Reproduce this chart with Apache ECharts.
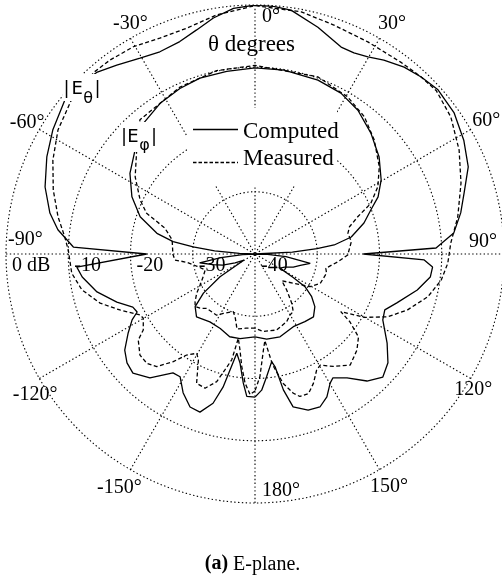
<!DOCTYPE html>
<html><head><meta charset="utf-8">
<script src="https://cdn.jsdelivr.net/npm/echarts@6/dist/echarts.min.js"></script>
<style>html,body{margin:0;padding:0;background:#fff}#c{width:502px;height:575px}</style>
</head><body><div id="c"></div>
<script>
// ---- data: [angle in degrees, level in dB] ----
const thetaComputed = [[-180,-17.0],[-176.7,-17.1],[-174.8,-19.2],[-172.2,-22.3],[-169.6,-23.8],[-166.5,-18.0],[-164.3,-15.1],[-160.8,-13.1],[-157,-13.3],[-152.6,-14.9],[-148.6,-16.9],[-145.4,-16.8],[-139.7,-13.9],[-134.3,-12.6],[-130.4,-13.0],[-126.4,-14.0],[-121.9,-16.0],[-118.2,-17.6],[-116.2,-18.9],[-113.5,-18.6],[-109.2,-16.5],[-103.5,-13.9],[-97.6,-12.0],[-94.2,-11.3],[-90,-22.6],[-87.8,-10.8],[-83,-8.1],[-78.7,-6.4],[-72.3,-4.6],[-65,-3.1],[-58.5,-1.9],[-51,-0.7],[-46,-0.9],[-41.1,-1.3],[-36.2,-2.4],[-30.4,-3.5],[-25.2,-4.1],[-19.5,-3.8],[-14.6,-2.8],[-10,-1.5],[-5,-0.4],[0,0],[4,-0.1],[8.4,-0.4],[15.5,-2.2],[22.6,-4.0],[26.2,-4.0],[29.8,-3.5],[33.6,-2.6],[38.6,-1.6],[43.2,-1.0],[48.1,-0.5],[54.7,-0.8],[61.4,-1.8],[67.8,-3.0],[73.7,-5.0],[78.7,-6.3],[84,-7.9],[88.1,-10.9],[90,-22.6],[92,-12.8],[94.2,-11.4],[97.5,-11.6],[102.5,-13.3],[109,-15.9],[113.3,-17.3],[117.3,-16.9],[124,-14.4],[129.3,-12.4],[133.9,-11.5],[138.6,-12.8],[143.4,-15.2],[147.8,-16.5],[149.8,-16.0],[153.3,-14.3],[157,-13.3],[161.2,-13.5],[166,-14.7],[168.2,-17.7],[169.9,-21.6],[171.2,-22.5],[172.2,-22.3],[174.6,-20.2],[177.2,-18.1],[180,-17.0]];

const thetaMeasured = [[-180,-18.0],[-178,-17.4],[-175.6,-19.2],[-173.3,-21.8],[-171.1,-24.4],[-168.8,-26.2],[-167.6,-22.6],[-165.5,-20.8],[-163.3,-18.6],[-159.6,-17.0],[-155.7,-17.2],[-151.9,-20.7],[-149.6,-21.5],[-145.9,-20.4],[-142.8,-18.3],[-138.9,-16.0],[-135.3,-15.3],[-131.3,-15.4],[-126.4,-16.7],[-124.2,-18.3],[-119.9,-19.3],[-117.9,-19.1],[-112.5,-16.5],[-107.6,-13.9],[-101.7,-11.6],[-96,-10.4],[-88.8,-10.0],[-84.8,-9.3],[-79.3,-7.8],[-72.4,-6.0],[-65.1,-4.2],[-57.8,-2.6],[-50,-1.5],[-45,-1.2],[-41.3,-1.0],[-36.8,-1.1],[-30.4,-1.4],[-23.8,-2.1],[-16.8,-2.1],[-9.1,-1.1],[0,-0.1],[10.8,-0.4],[19,-1.1],[28,-1.4],[37.2,-1.3],[43,-1.0],[48,-0.8],[55,-1.6],[63,-3.2],[71,-5.0],[79.7,-6.9],[86.8,-8.5],[92.8,-9.0],[98,-9.8],[103.9,-11.4],[110.1,-13.9],[115.3,-16.4],[120.1,-19.7],[123.9,-23.4],[125.5,-21.3],[128.7,-18.7],[133.3,-17.5],[139.4,-16.5],[145.2,-18.0],[149.6,-19.3],[152,-18.9],[155.7,-17.2],[159,-16.0],[162.5,-16.0],[164.6,-16.8],[167.7,-18.7],[171,-22.0],[173.5,-26.0],[175,-24.5],[177.7,-20.3],[180,-18.0]];

const phiComputed = [[-180,-26.7],[-170,-26.2],[-163,-26.1],[-155,-26.8],[-146.4,-26.9],[-137.1,-26.2],[-131.3,-27.2],[-127.2,-29.6],[-123,-33.3],[-119,-38.0],[-114,-36.5],[-109,-34.5],[-104,-33.0],[-99,-31.0],[-96,-34.5],[-93,-38.0],[-90,-40],[-87.5,-37.5],[-85.5,-33.5],[-83.4,-30.0],[-81.4,-26.7],[-78.1,-23.9],[-72,-20.6],[-65.1,-18.2],[-57.2,-16.1],[-49.1,-14.5],[-40.5,-12.4],[-32.2,-11.4],[-24.4,-10.8],[-17.4,-10.4],[-8.8,-10.3],[0,-10.1],[9,-10.1],[19.9,-10.3],[28.1,-10.7],[35.6,-11.6],[43.8,-13.1],[52,-14.7],[59.6,-16.5],[65.1,-18.2],[69.2,-20.1],[74.1,-21.8],[80,-24.3],[83.5,-27.2],[85,-30.0],[87,-34.0],[90,-40],[92,-38.0],[95,-35.0],[99.6,-31.0],[104,-32.5],[109,-33.5],[114,-34.8],[119.5,-35.4],[121.5,-32.8],[123.2,-30.4],[127,-28.6],[131.3,-27.2],[137.1,-26.2],[143.6,-26.5],[152.2,-26.8],[163.2,-26.1],[172.2,-26.2],[180,-26.7]];

const phiMeasured = [[-180,-28.1],[-173,-28.0],[-166.5,-27.6],[-163,-29.2],[-159.4,-30.1],[-152,-29.2],[-147.9,-28.4],[-138.4,-28.3],[-134.6,-27.6],[-131.3,-27.2],[-128.5,-27.7],[-124,-28.7],[-119.4,-29.9],[-113,-31.0],[-107.7,-31.6],[-102,-30.5],[-97,-29.0],[-94.3,-27.1],[-90,-26.8],[-85,-26.7],[-80.4,-26.5],[-76,-25.5],[-73.9,-24.9],[-69.4,-21.4],[-64.8,-19.6],[-57.2,-17.1],[-48.7,-14.7],[-40.6,-11.6],[-24.2,-10.6],[-11.8,-9.9],[0,-9.7],[19.5,-9.8],[30.5,-10.7],[38.5,-11.8],[46.3,-13.5],[54.9,-15.6],[61.3,-17.5],[66.4,-19.7],[70,-22.4],[73.9,-24.2],[77.4,-24.7],[82.7,-24.4],[90.6,-25.1],[95.3,-26.6],[101.4,-28.4],[105,-28.1],[114.3,-28.5],[120.7,-29.7],[127.4,-32.3],[135,-33.9],[138.6,-32.3],[143.3,-30.1],[146.4,-28.9],[150.2,-28.7],[154.9,-28.0],[164.1,-27.3],[174.3,-27.5],[180,-28.1]];

const angleTicks = [0, 30, 60, 90, 120, 150, 180, -150, -120, -90, -60, -30];
const angleTickLabels = ['0°', '30°', '60°', '90°', '120°', '150°', '180°', '-150°', '-120°', '-90°', '-60°', '-30°'];
const radialTicks = [0, -10, -20, -30, -40];
const radialTickLabels = ['0 dB', '-10', '-20', '-30', '-40'];
const legendLabels = ['Computed', 'Measured'];
const angleTitle = 'θ degrees';
const caption = ['(a)', ' E-plane.'];

// ---- styling / layout (not data) ----
const angleLabelNudge = [[7,11.5],[-1.5,-15],[1.5,-8.5],[-35,-12.5],[-16.5,11.5],[-9.5,17.5],[7,-12.5],[-33.5,18.5],[-26.5,16.5],[2,-14],[-29.5,-7],[-17.5,-14.5]];
const SERIF = 'Liberation Serif';
const SANS = 'DejaVu Sans';
const dotted = { color: '#000', width: 1.1, type: [1.4, 2.4] };
const dashPattern = [4, 2.5];

function toPolar(arr) { return arr.map(p => [p[1], p[0]]); }

const chart = echarts.init(document.getElementById('c'), null, { renderer: 'canvas' });

function lineSeries(name, arr, dashed) {
  return {
    name: name, type: 'line', coordinateSystem: 'polar', data: toPolar(arr),
    showSymbol: false, symbol: 'none', silent: true, animation: false, clip: false,
    lineStyle: { color: '#000', width: 1.3, type: dashed ? dashPattern : 'solid' }, z: 3
  };
}

function txt(text, x, y, size, family, extra) {
  return Object.assign({
    type: 'text', z: 60, silent: true,
    style: { text: text, x: x, y: y, fill: '#000', font: size + 'px "' + family + '"', align: 'left', verticalAlign: 'middle' }
  }, extra || {});
}

const tickLabelStyle = {
  show: true, position: [0.5, 0.5], align: 'left', verticalAlign: 'middle',
  fontFamily: SERIF, fontSize: 20, color: '#000', opacity: 1,
  textBorderWidth: 0, textShadowBlur: 0
};

const option = {
  backgroundColor: '#fff',
  animation: false,
  polar: { center: [255, 254], radius: 249 },
  angleAxis: {
    type: 'value', min: 0, max: 360, interval: 30, startAngle: 90, clockwise: true,
    axisLine: { show: false }, axisTick: { show: false }, axisLabel: { show: false },
    splitLine: { show: true, lineStyle: dotted }
  },
  radiusAxis: {
    type: 'value', min: -40, max: 0, interval: 10,
    axisLine: { show: false }, axisTick: { show: false }, axisLabel: { show: false },
    splitLine: { show: true, lineStyle: dotted }
  },
  series: [
    lineSeries('E_theta computed', thetaComputed, false),
    lineSeries('E_theta measured', thetaMeasured, true),
    lineSeries('E_phi computed', phiComputed, false),
    lineSeries('E_phi measured', phiMeasured, true),
    {
      type: 'scatter', coordinateSystem: 'polar', symbolSize: 1, silent: true,
      itemStyle: { color: '#fff', opacity: 0 },
      data: angleTicks.map((a, i) => ({ value: [0, a], label: { offset: angleLabelNudge[i] } })),
      label: Object.assign({ formatter: p => angleTickLabels[p.dataIndex] }, tickLabelStyle),
      emphasis: { disabled: true },
      z: 5
    },
    {
      type: 'scatter', coordinateSystem: 'polar', symbolSize: 1, silent: true,
      itemStyle: { color: '#fff', opacity: 0 },
      data: radialTicks.map(r => [r, -90]),
      label: Object.assign({ formatter: p => radialTickLabels[p.dataIndex], offset: [6, 11.5] }, tickLabelStyle),
      emphasis: { disabled: true },
      z: 5
    }
  ],
  graphic: [
    // legend panel
    { type: 'rect', z: 50, silent: true, shape: { x: 187, y: 108, width: 150, height: 77 }, style: { fill: '#fff' } },
    { type: 'line', z: 60, silent: true, shape: { x1: 193, y1: 129.5, x2: 238, y2: 129.5 }, style: { stroke: '#000', lineWidth: 1.4 } },
    { type: 'line', z: 60, silent: true, shape: { x1: 193, y1: 162.5, x2: 238, y2: 162.5 }, style: { stroke: '#000', lineWidth: 1.4, lineDash: [3.5, 2] } },
    txt(legendLabels[0], 243, 132.2, 23, SERIF),
    txt(legendLabels[1], 243, 158.7, 23, SERIF),
    txt(angleTitle, 208, 44.5, 23, SERIF),
    // |E_theta| label
    { type: 'rect', z: 50, silent: true, shape: { x: 63, y: 74, width: 38, height: 27 }, style: { fill: '#fff' } },
    txt('|', 63.4, 89.8, 18, SANS),
    txt('E', 71.5, 89.8, 18, SANS),
    txt('θ', 83.3, 98.5, 16, SANS),
    txt('|', 94.4, 89.8, 18, SANS),
    // |E_phi| label
    { type: 'rect', z: 50, silent: true, shape: { x: 121, y: 122, width: 37, height: 30 }, style: { fill: '#fff' } },
    txt('|', 121, 137.1, 18, SANS),
    txt('E', 127.2, 137.1, 18, SANS),
    txt('φ', 139.2, 145.5, 16, SANS),
    txt('|', 151, 137.1, 18, SANS),
    // caption
    {
      type: 'text', z: 60, silent: true,
      style: {
        text: '{b|' + caption[0] + '}{n|' + caption[1] + '}', x: 252.5, y: 564.3, align: 'center', verticalAlign: 'middle',
        fill: '#000', font: '20px "' + SERIF + '"',
        rich: {
          b: { fontFamily: SERIF, fontSize: 20, fontWeight: 'bold', fill: '#000' },
          n: { fontFamily: SERIF, fontSize: 20, fill: '#000' }
        }
      }
    }
  ]
};
chart.setOption(option);
</script>
</body></html>
